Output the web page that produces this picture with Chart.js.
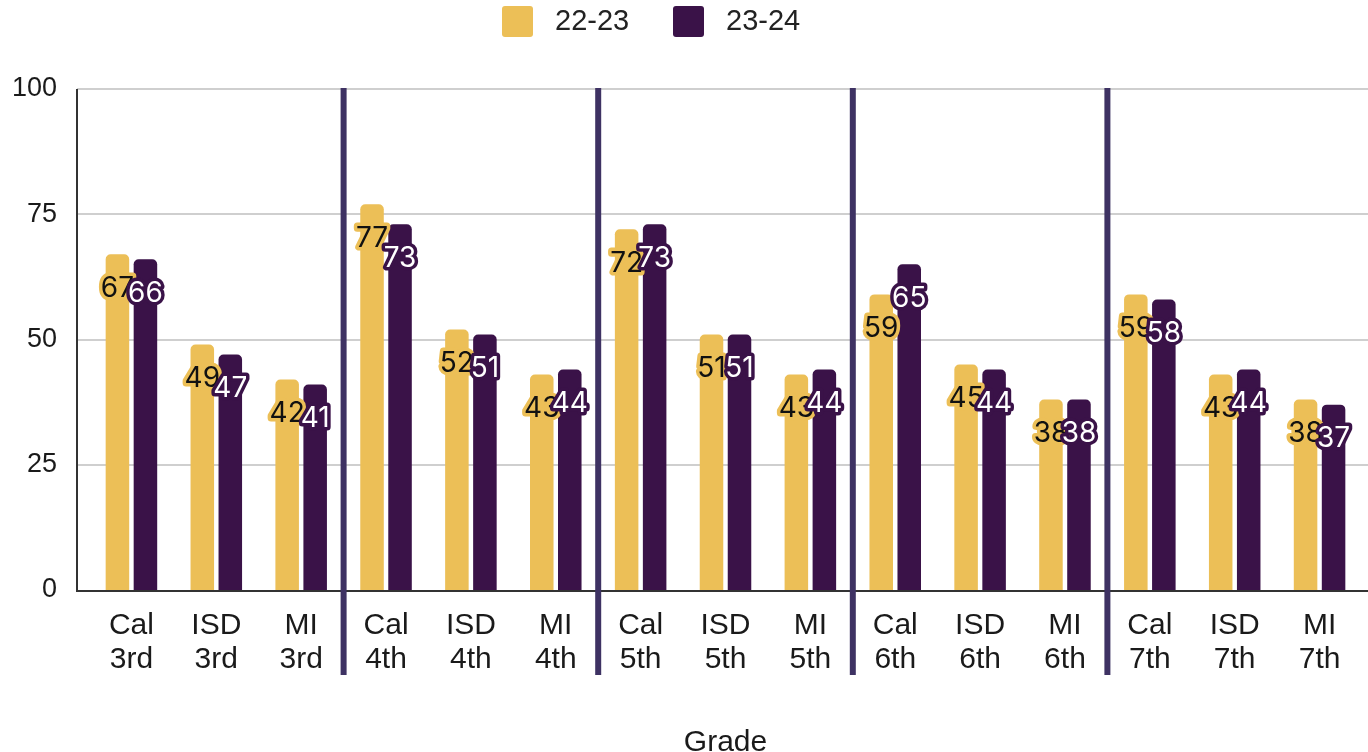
<!DOCTYPE html>
<html>
<head>
<meta charset="utf-8">
<script src="https://cdn.jsdelivr.net/npm/chart.js@4"></script>
<style>
  html, body { margin: 0; padding: 0; background: #ffffff; }
  #wrap { position: relative; width: 1368px; height: 752px; }
</style>
</head>
<body>
<div id="wrap"><canvas id="c" width="1368" height="752"></canvas></div>
<script>
const categories = [
  ["Cal", "3rd"], ["ISD", "3rd"], ["MI", "3rd"],
  ["Cal", "4th"], ["ISD", "4th"], ["MI", "4th"],
  ["Cal", "5th"], ["ISD", "5th"], ["MI", "5th"],
  ["Cal", "6th"], ["ISD", "6th"], ["MI", "6th"],
  ["Cal", "7th"], ["ISD", "7th"], ["MI", "7th"]
];
const seriesNames = ["22-23", "23-24"];
const values2223 = [67, 49, 42, 77, 52, 43, 72, 51, 43, 59, 45, 38, 59, 43, 38];
const values2324 = [66, 47, 41, 73, 51, 44, 73, 51, 44, 65, 44, 38, 58, 44, 37];
const yTicks = [0, 25, 50, 75, 100];
const xTitle = "Grade";

const YELLOW = "#ECBF57";
const PURPLE = "#3A1248";
const SEP = "#3E3263";
const TICK_FONT = "'Liberation Sans', Arial, sans-serif";
const LABEL_FONT = "Inter, 'Noto Sans', sans-serif";

const decorPlugin = {
  id: "decor",
  beforeDatasetsDraw(chart) {
    const ctx = chart.ctx;
    const y = chart.scales.y;
    ctx.save();
    ctx.strokeStyle = "#cfcfcf";
    ctx.lineWidth = 2;
    yTicks.forEach(v => {
      if (v === 0) return;
      const py = Math.round(y.getPixelForValue(v));
      ctx.beginPath();
      ctx.moveTo(77, py);
      ctx.lineTo(chart.width, py);
      ctx.stroke();
    });
    ctx.restore();
  },
  afterDatasetsDraw(chart) {
    const ctx = chart.ctx;
    const x = chart.scales.x;
    const y = chart.scales.y;
    const area = chart.chartArea;
    ctx.save();
    // axes
    ctx.strokeStyle = "#333333";
    ctx.lineWidth = 2;
    const y0 = Math.round(y.getPixelForValue(0));
    ctx.beginPath();
    ctx.moveTo(77, area.top);
    ctx.lineTo(77, y0 + 1);
    ctx.lineTo(chart.width, y0 + 1);
    ctx.stroke();
    // group separators
    const step = x.getPixelForValue(1) - x.getPixelForValue(0);
    ctx.fillStyle = SEP;
    [3, 6, 9, 12].forEach(i => {
      const px = x.getPixelForValue(i) - step / 2;
      ctx.fillRect(px - 3, area.top - 1, 6, 676 - area.top);
    });
    // data labels
    ctx.font = "28px " + LABEL_FONT;
    ctx.textAlign = "center";
    ctx.textBaseline = "middle";
    ctx.lineJoin = "round";
    chart.data.datasets.forEach((ds, di) => {
      const meta = chart.getDatasetMeta(di);
      meta.data.forEach((bar, i) => {
        const tx = bar.x, ty = bar.y + 34;
        const txt = String(ds.data[i]);
        ctx.lineWidth = 7;
        ctx.strokeStyle = di === 0 ? YELLOW : PURPLE;
        ctx.strokeText(txt, tx, ty);
        ctx.fillStyle = di === 0 ? "#111111" : "#ffffff";
        ctx.fillText(txt, tx, ty);
      });
    });
    // legend
    const items = [
      { label: seriesNames[0], color: YELLOW, x: 502 },
      { label: seriesNames[1], color: PURPLE, x: 673 }
    ];
    ctx.font = "29px " + TICK_FONT;
    ctx.textAlign = "left";
    ctx.textBaseline = "middle";
    items.forEach(it => {
      ctx.fillStyle = it.color;
      ctx.beginPath();
      ctx.roundRect(it.x, 6, 31, 31, 3);
      ctx.fill();
      ctx.fillStyle = "#222222";
      ctx.fillText(it.label, it.x + 53, 22);
    });
    ctx.restore();
  }
};

new Chart(document.getElementById("c"), {
  type: "bar",
  data: {
    labels: categories,
    datasets: [
      { label: seriesNames[0], data: values2223, backgroundColor: YELLOW,
        borderRadius: { topLeft: 5, topRight: 5 }, borderSkipped: "start" },
      { label: seriesNames[1], data: values2324, backgroundColor: PURPLE,
        borderRadius: { topLeft: 5, topRight: 5 }, borderSkipped: "start" }
    ]
  },
  options: {
    responsive: false,
    animation: false,
    datasets: { bar: { categoryPercentage: 0.66, barPercentage: 0.84 } },
    layout: { padding: { top: 89, right: 6, left: 0, bottom: 0 } },
    plugins: { legend: { display: false }, tooltip: { enabled: false } },
    scales: {
      x: {
        grid: { display: false, drawTicks: false },
        border: { display: false },
        ticks: { color: "#1a1a1a", font: { family: TICK_FONT, size: 30, lineHeight: 1.13 }, padding: 19, maxRotation: 0, autoSkip: false },
        title: { display: true, text: xTitle, color: "#1a1a1a", font: { family: TICK_FONT, size: 30 }, padding: { top: 0, bottom: -9 } },
        afterFit(scale) { scale.height = 162; }
      },
      y: {
        min: 0, max: 100,
        afterBuildTicks(scale) { scale.ticks = yTicks.map(v => ({ value: v })); },
        grid: { display: false, drawTicks: false },
        border: { display: false },
        ticks: { color: "#1a1a1a", font: { family: TICK_FONT, size: 27 }, padding: 32 },
        afterFit(scale) { scale.width = 89; }
      }
    }
  },
  plugins: [decorPlugin]
});
</script>
</body>
</html>
